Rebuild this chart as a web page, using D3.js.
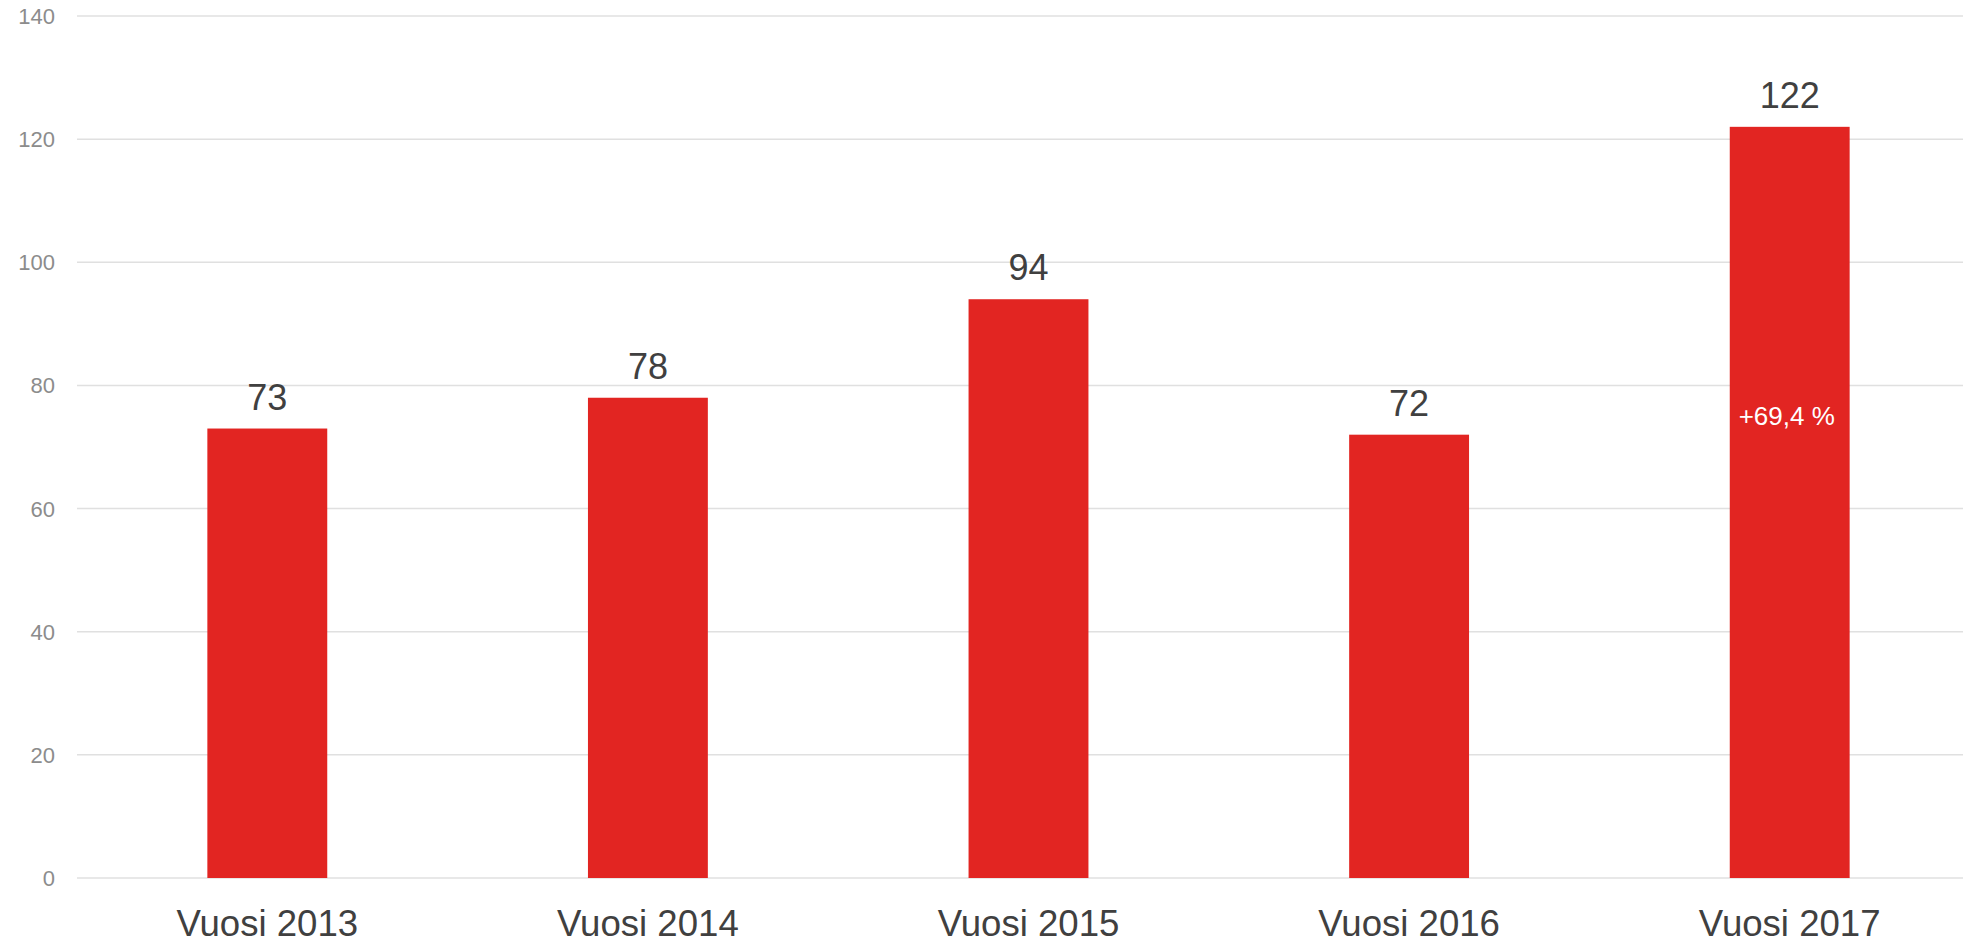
<!DOCTYPE html>
<html>
<head>
<meta charset="utf-8">
<script src="https://cdn.jsdelivr.net/npm/d3@7"></script>
<style>
  body { margin: 0; background: #fff; }
  svg { display: block; font-family: "Liberation Sans", Arial, sans-serif; }
</style>
</head>
<body>
<div id="chart"></div>
<script>
const width = 1963;
const height = 940;

const categories = ["Vuosi 2013", "Vuosi 2014", "Vuosi 2015", "Vuosi 2016", "Vuosi 2017"];
const values = [73, 78, 94, 72, 122];
const yTicks = [0, 20, 40, 60, 80, 100, 120, 140];
const notes = ["", "", "", "", "+69,4 %"];
const noteValue = 75;

const svg = d3.select("#chart")
  .append("svg")
  .attr("width", width)
  .attr("height", height);

const x = d3.scaleBand()
  .domain(categories)
  .range([77, 1980])
  .paddingInner(0.685)
  .paddingOuter(0.3425);

const y = d3.scaleLinear()
  .domain([0, 140])
  .range([878, 16]);

// gridlines
svg.append("g")
  .selectAll("line")
  .data(yTicks)
  .enter()
  .append("line")
  .attr("x1", 77)
  .attr("x2", width)
  .attr("y1", d => y(d))
  .attr("y2", d => y(d))
  .attr("stroke", "#e0e0e0")
  .attr("stroke-width", 1.5);

// y tick labels
svg.append("g")
  .selectAll("text")
  .data(yTicks)
  .enter()
  .append("text")
  .attr("x", 55)
  .attr("y", d => y(d) + 8)
  .attr("text-anchor", "end")
  .attr("font-size", "22px")
  .attr("fill", "#8c8c8c")
  .text(d => d);

// bars
svg.append("g")
  .selectAll("rect")
  .data(values)
  .enter()
  .append("rect")
  .attr("x", (d, i) => x(categories[i]))
  .attr("y", d => y(d))
  .attr("width", x.bandwidth())
  .attr("height", d => y(0) - y(d))
  .attr("fill", "#e22522");

// value labels
svg.append("g")
  .selectAll("text")
  .data(values)
  .enter()
  .append("text")
  .attr("x", (d, i) => x(categories[i]) + x.bandwidth() / 2)
  .attr("y", d => y(d) - 19)
  .attr("text-anchor", "middle")
  .attr("font-size", "36px")
  .attr("fill", "#404040")
  .text(d => d);

// note inside last bar
svg.append("g")
  .selectAll("text")
  .data(notes.filter(n => n))
  .enter()
  .append("text")
  .attr("x", (d) => x(categories[notes.indexOf(d)]) + x.bandwidth() / 2 - 3)
  .attr("y", y(noteValue) + 9)
  .attr("text-anchor", "middle")
  .attr("font-size", "26px")
  .attr("fill", "#ffffff")
  .text(d => d);

// x axis labels (the reference clips them at the bottom edge as well)
svg.append("g")
  .selectAll("text")
  .data(categories)
  .enter()
  .append("text")
  .attr("x", d => x(d) + x.bandwidth() / 2)
  .attr("y", 936)
  .attr("text-anchor", "middle")
  .attr("font-size", "36.6px")
  .attr("fill", "#404040")
  .text(d => d);
</script>
</body>
</html>
